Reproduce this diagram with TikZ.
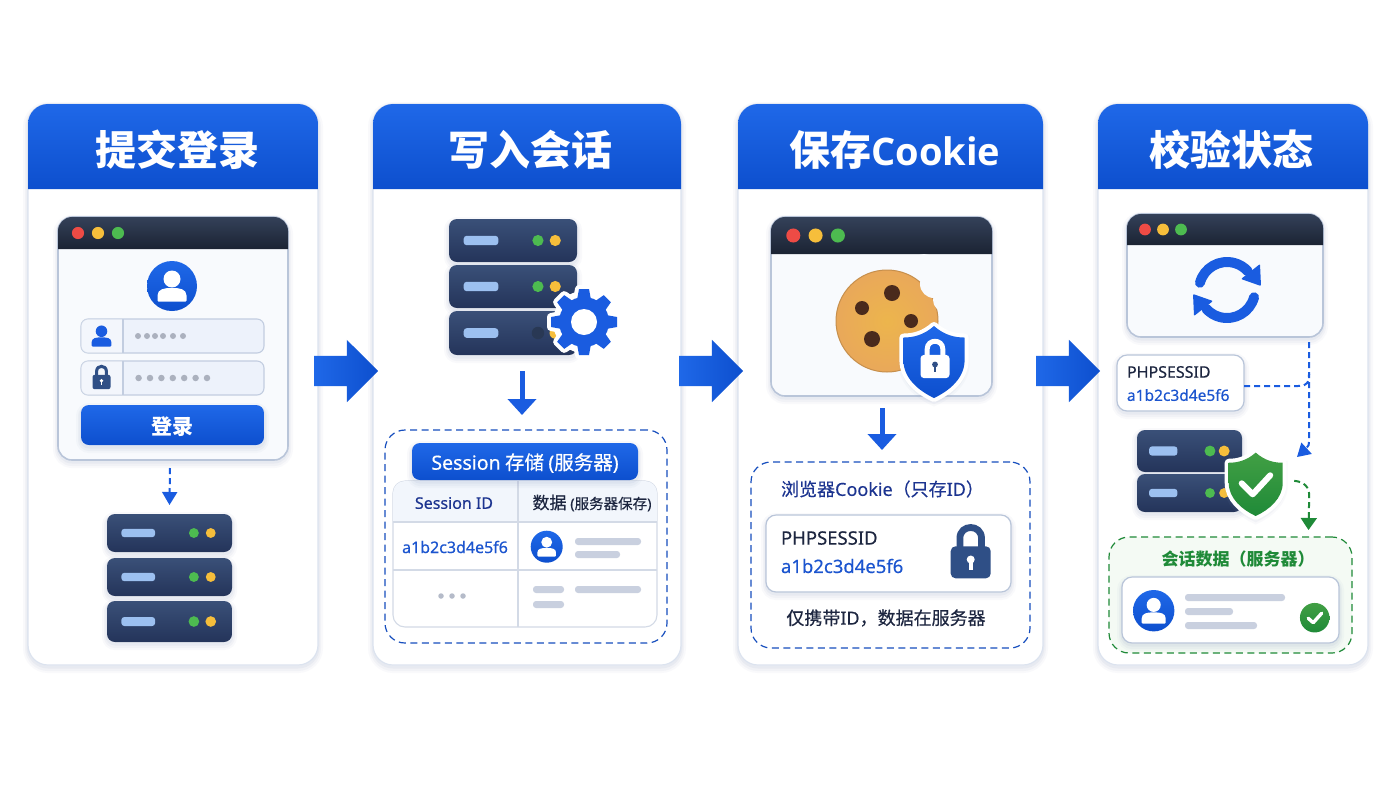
\documentclass[tikz,border=0pt]{standalone}
\usepackage{fontspec}
\setmainfont{Noto Sans CJK SC}[FakeBold=0.35,BoldFeatures={FakeBold=0}]
\newfontfamily\latfont{Noto Sans}[FakeBold=0.35]
\newfontfamily\headfont{Open Sans}
\usetikzlibrary{positioning,arrows.meta,calc,shapes.arrows}

\definecolor{mainblue}{HTML}{1A5CE0}
\definecolor{hdtop}{HTML}{1F68E8}
\definecolor{hdbot}{HTML}{0D4FCE}
\definecolor{panelline}{HTML}{DCE3EF}
\definecolor{shadowc}{HTML}{8C9CC0}
\definecolor{winfill}{HTML}{F8FAFD}
\definecolor{winline}{HTML}{B9C5D9}
\definecolor{bartop}{HTML}{344159}
\definecolor{barbot}{HTML}{1B2333}
\definecolor{srvtop}{HTML}{3A5078}
\definecolor{srvbot}{HTML}{24345A}
\definecolor{srvlight}{HTML}{9CC0F0}
\definecolor{dotred}{HTML}{EE4B45}
\definecolor{dotyel}{HTML}{F6BE3B}
\definecolor{dotgrn}{HTML}{4DBB50}
\definecolor{fieldc}{HTML}{EDF2FB}
\definecolor{fieldl}{HTML}{C2CDE0}
\definecolor{tblline}{HTML}{D3DAE6}
\definecolor{greybar}{HTML}{C9D0DF}
\definecolor{inkc}{HTML}{1D2640}
\definecolor{navyc}{HTML}{1C3490}
\definecolor{idblue}{HTML}{1C55CF}
\definecolor{greenc}{HTML}{1F8A38}
\definecolor{gfill}{HTML}{F4FAF4}
\definecolor{lockc}{HTML}{2F4F86}
\definecolor{cookiec}{HTML}{E9A85A}
\definecolor{chipc}{HTML}{4A2A1C}

\newcommand{\txtsize}[1]{\fontsize{#1}{#1}\selectfont}

\tikzset{
    softshadow/.style={
        preaction={draw=shadowc,draw opacity=.05,line width=10pt,transform canvas={yshift=-3pt}},
        preaction={draw=shadowc,draw opacity=.07,line width=6pt,transform canvas={yshift=-3pt}},
        preaction={draw=shadowc,draw opacity=.09,line width=3pt,transform canvas={yshift=-2pt}}},
    box/.style={rectangle,inner sep=0pt,outer sep=0pt},
    panel/.style={box,draw=panelline,fill=white,line width=1.2pt,rounded corners=20pt,softshadow},
    winbody/.style={box,draw=winline,fill=winfill,line width=1.6pt,rounded corners=14pt,softshadow},
    winbar/.style={top color=bartop,bottom color=barbot,draw=none},
    windot/.style={circle,inner sep=0pt,outer sep=0pt},
    srvunit/.style={box,top color=srvtop,bottom color=srvbot,rounded corners=8pt,softshadow},
    srvbar/.style={box,fill=srvlight,rounded corners=3pt},
    srvled/.style={circle,inner sep=0pt,outer sep=0pt},
    field/.style={box,draw=fieldl,fill=fieldc,line width=1.1pt,rounded corners=7pt,minimum width=183pt,minimum height=34pt},
    bluebtn/.style={box,top color=hdtop,bottom color=hdbot,rounded corners=8pt,softshadow},
    avatarc/.style={circle,inner sep=0pt,outer sep=0pt,top color=hdtop,bottom color=hdbot},
    dashbox/.style={box,draw=mainblue!85!black,line width=1.2pt,dash pattern=on 7pt off 4.5pt,fill=white,rounded corners=20pt},
    card/.style={box,draw=winline,fill=white,line width=1.2pt,rounded corners=10pt,softshadow},
    greyline/.style={box,fill=greybar,rounded corners=3pt,minimum height=7pt},
    tinydot/.style={circle,inner sep=0pt,outer sep=0pt,fill=#1},
    bigarrow/.style={single arrow,shade,shading=axis,left color=hdtop,right color=hdbot,inner xsep=0pt,inner ysep=15pt,
        outer sep=0pt,minimum height=64pt,single arrow head extend=16pt,single arrow tip angle=90},
    solidarrow/.style={draw=mainblue,line width=5pt,-{Triangle[width=28pt,length=16pt]}},
    dasharrow/.style={draw=mainblue,line width=2pt,dash pattern=on 6pt off 4pt,-{Triangle[width=15pt,length=13pt]}},
    txt/.style={inner sep=0pt,outer sep=0pt},
}

% panel with its blue head
\newcommand{\headbar}[4]{%
    \path[top color=hdtop,bottom color=hdbot]
        ($(#1.north west)+(0,85)$) [rounded corners=20pt] -- (#1.north west) -- (#1.north east)
        [sharp corners] -- ($(#1.north east)+(0,85)$) -- cycle;
    \node[txt,text=white,font=\bfseries\txtsize{41}] (#1title) at ($(#1.north)+(#3,46)$) {#4};
}
% window: name, width, height, bar, dot step, placement
\newcommand{\winbox}[6]{%
    \node[winbody,minimum width=#2pt,minimum height=#3pt,#6] (#1) {};
    \path[winbar]
        ($(#1.north west)+(0,#4)$) [rounded corners=14pt] -- (#1.north west) -- (#1.north east)
        [sharp corners] -- ($(#1.north east)+(0,#4)$) -- cycle;
    \foreach \dotc [count=\i] in {dotred,dotyel,dotgrn}
        \node[windot,fill=\dotc,minimum size={.38*#4pt}] (#1dot\i) at ($(#1.north west)+(#5*\i,#4/2)$) {};
}
% server row: name, width, height, placement
\newcommand{\srvrow}[4]{%
    \node[srvunit,minimum width=#2pt,minimum height=#3pt,#4] (#1) {};
    \node[srvbar,minimum width={.27*#2pt},minimum height={.22*#3pt}] (#1bar) at ($(#1.west)!.25!(#1.east)$) {};
    \node[srvled,fill=dotgrn,minimum size={.26*#3pt}] (#1g) at ($(#1.west)!.695!(#1.east)$) {};
    \node[srvled,fill=dotyel,minimum size={.26*#3pt}] (#1y) at ($(#1.west)!.83!(#1.east)$) {};
}
% person shape in units of #2
\newcommand{\person}[3]{%
    \begin{scope}[shift={(#1)},x=#2pt,y=-#2pt]
        \fill[#3] (0,-.28) circle (.34);
        \fill[#3,rounded corners=1pt] (-.58,.62) -- (-.58,.42) .. controls (-.58,.12) and (-.3,.08) .. (0,.08)
            .. controls (.3,.08) and (.58,.12) .. (.58,.42) -- (.58,.62) -- cycle;
    \end{scope}
}
\newcommand{\avatar}[3]{%
    \node[avatarc,minimum size={2*#2pt}] (#1) at (#3) {};
    \person{#1.center}{#2}{white}
}
% lock: name, width, body, hole, position
\newcommand{\lockicon}[5]{%
    \coordinate (#1) at (#5);
    \begin{scope}[shift={(#1)},x=#2pt,y=-#2pt]
        \draw[#3,line width={.17*#2pt}] (-.27,-.3) -- (-.27,-.6) .. controls (-.27,-.96) and (.27,-.96) .. (.27,-.6) -- (.27,-.3);
        \fill[#3,rounded corners={.12*#2pt}] (-.5,-.4) rectangle (.5,.4);
        \fill[#4] (0,-.07) circle (.1);
        \draw[#4,line width={.09*#2pt}] (0,-.05) -- (0,.18);
    \end{scope}
}
% shield: name, x unit, y unit, top colour, bottom colour, position
\newcommand{\shield}[6]{%
    \coordinate (#1) at (#6);
    \begin{scope}[shift={(#1)},x=#2pt,y=-#3pt]
        \path[draw=white,line width=8pt,line join=round,top color=#4,bottom color=#5,softshadow]
            (0,-1) .. controls (.3,-.75) and (.6,-.68) .. (.9,-.68) -- (.9,-.05)
            .. controls (.9,.45) and (.45,.8) .. (0,1) .. controls (-.45,.8) and (-.9,.45) .. (-.9,-.05)
            -- (-.9,-.68) .. controls (-.6,-.68) and (-.3,-.75) .. (0,-1) -- cycle;
        \path[top color=#4,bottom color=#5]
            (0,-1) .. controls (.3,-.75) and (.6,-.68) .. (.9,-.68) -- (.9,-.05)
            .. controls (.9,.45) and (.45,.8) .. (0,1) .. controls (-.45,.8) and (-.9,.45) .. (-.9,-.05)
            -- (-.9,-.68) .. controls (-.6,-.68) and (-.3,-.75) .. (0,-1) -- cycle;
    \end{scope}
}

\begin{document}
\begin{tikzpicture}[x=1pt,y=-1pt]
    \useasboundingbox (0,0) rectangle (1400,788);
    \fill[white] (0,0) rectangle (1400,788);

    % panels
    \node[panel,anchor=north west,minimum width=290pt,minimum height=561pt] (panel1) at (28,104) {};
    \node[panel,right=55pt of panel1,minimum width=308pt,minimum height=561pt] (panel2) {};
    \node[panel,right=57pt of panel2,minimum width=305pt,minimum height=561pt] (panel3) {};
    \node[panel,right=55pt of panel3,minimum width=270pt,minimum height=561pt] (panel4) {};
    \headbar{panel1}{85}{4}{提交登录}
    \headbar{panel2}{85}{3}{写入会话}
    \headbar{panel3}{85}{4.5}{保存{\headfont\txtsize{38}Cookie}}
    \headbar{panel4}{85}{-2}{校验状态}

    % arrows between panels
    \node[bigarrow,right=-4pt of panel1.east,yshift=13.5pt] (next1) {};
    \node[bigarrow,right=-2pt of panel2.east,yshift=13.5pt] (next2) {};
    \node[bigarrow,right=-7pt of panel3.east,yshift=13.5pt] (next3) {};

    % login window
    \winbox{win1}{230}{243}{32}{20}{below right=113pt and 30pt of panel1.north west}
    \avatar{loginuser}{25}{$(win1.north west)+(114,69)$}
    \node[field,below right=102pt and 23pt of win1.north west] (field1) {};
    \node[field,below=8pt of field1] (field2) {};
    \foreach \f in {field1,field2} {
        \path[fill=white,fill opacity=.35]
            ($(\f.north west)+(42,0)$) [rounded corners=7pt] -- (\f.north west) -- (\f.south west)
            [sharp corners] -- ($(\f.south west)+(42,0)$) -- cycle;
        \draw[fieldl,line width=1.1pt] ($(\f.north west)+(42,0)$) -- ($(\f.south west)+(42,0)$);
    }
    \person{$(field1.west)+(20.5,0)$}{17}{mainblue}
    \lockicon{fieldlock}{18}{lockc}{white}{$(field2.west)+(20.5,4)$}
    \foreach \dx [count=\i] in {57,66,74,82,92,102}
        \node[tinydot=greybar!85!black,minimum size=6pt] (fa\i) at ($(field1.west)+(\dx,0)$) {};
    \foreach \i in {1,...,7}
        \node[tinydot=greybar!85!black,minimum size=6.5pt] (fb\i) at ($(field2.west)+(46.2+11.4*\i,0)$) {};
    \node[bluebtn,below=10pt of field2,minimum width=183pt,minimum height=40pt] (loginbtn) {};
    \node[txt,text=white,font=\bfseries\txtsize{21}] (logintxt) at ($(loginbtn)+(0,1.5)$) {登录};

    % first server
    \srvrow{srvA1}{125}{38}{below right=410pt and 79pt of panel1.north west}
    \srvrow{srvA2}{125}{38}{below=6pt of srvA1}
    \srvrow{srvA3}{125}{41}{below=5pt of srvA2}
    \draw[dasharrow] ($(win1.south)+(-3,8)$) -- ($(srvA1.north)+(0,-9)$);

    % second server, gear
    \srvrow{srvB1}{128}{43}{below right=115pt and 76pt of panel2.north west}
    \srvrow{srvB2}{128}{43}{below=3pt of srvB1}
    \srvrow{srvB3}{128}{44}{below=3pt of srvB2}
    \node[srvled,fill=srvtop!70!black,minimum size=12.5pt] (srvB3off) at (srvB3g) {};
    \coordinate (gear) at ($(srvB3.east)+(7,-11)$);
    \begin{scope}[shift={(gear)},x=1pt,y=1pt]
        \foreach \a in {0,45,...,315}
            \draw[white,fill=white,line width=8pt,line join=round,rotate=\a] (-7,22) -- (-5,33) -- (5,33) -- (7,22) -- cycle;
        \fill[white] (0,0) circle (31);
        \foreach \a in {0,45,...,315}
            \fill[mainblue,rotate=\a] (-7,22) -- (-5,33) -- (5,33) -- (7,22) -- cycle;
        \fill[mainblue] (0,0) circle (25);
        \fill[white] (0,0) circle (13);
    \end{scope}

    % session store
    \node[dashbox,below right=326pt and 12pt of panel2.north west,minimum width=282pt,minimum height=213pt] (sbox) {};
    \draw[solidarrow] ($(srvB3.south)+(9,16)$) -- ($(sbox.north)+(-4,-15)$);
    \node[box,draw=tblline,fill=white,line width=1.1pt,rounded corners=12pt,
        below right=51pt and 8pt of sbox.north west,minimum width=264pt,minimum height=146pt] (tbl) {};
    \path[fill=fieldc!70!white]
        ($(tbl.north west)+(0,41)$) [rounded corners=12pt] -- (tbl.north west) -- (tbl.north east)
        [sharp corners] -- ($(tbl.north east)+(0,41)$) -- cycle;
    \draw[tblline,line width=1.1pt] ($(tbl.north west)+(0,41)$) -- ($(tbl.north east)+(0,41)$);
    \draw[tblline,line width=1.1pt] ($(tbl.north west)+(0,89)$) -- ($(tbl.north east)+(0,89)$);
    \draw[tblline,line width=1.1pt] ($(tbl.north west)+(125,0)$) -- ($(tbl.south west)+(125,0)$);
    \node[bluebtn,below right=13pt and 27pt of sbox.north west,minimum width=226pt,minimum height=37pt] (sbadge) {};
    \node[txt,text=white,font=\txtsize{19.5}] (sbadgetxt) at ($(sbadge)+(0,1.5)$) {{\latfont Session} 存储 {\latfont(}服务器{\latfont)}};
    \node[txt,text=navyc,font=\latfont\txtsize{16}] (sidhead) at ($(tbl.north west)+(61,22)$) {Session ID};
    \node[txt,text=inkc,font=\txtsize{17}] (sdatahead) at ($(tbl.north west)+(199,22)$) {数据 {\txtsize{14.5}{\latfont(}服务器保存{\latfont)}}};
    \node[txt,text=idblue,font=\latfont\txtsize{16}] (sidval) at ($(tbl.north west)+(62,66)$) {a1b2c3d4e5f6};
    \avatar{suser}{16}{$(tbl.north west)+(153.7,65.7)$}
    \node[greyline,below right=57pt and 182pt of tbl.north west,minimum width=66pt] (sl1) {};
    \node[greyline,below right=70pt and 182pt of tbl.north west,minimum width=45pt] (sl2) {};
    \node[greyline,below right=105pt and 182pt of tbl.north west,minimum width=66pt] (sl3) {};
    \node[greyline,below right=105pt and 140pt of tbl.north west,minimum width=31pt] (sl4) {};
    \node[greyline,below right=120pt and 140pt of tbl.north west,minimum width=31pt] (sl5) {};
    \foreach \dx [count=\i] in {48,59,70}
        \node[tinydot=greybar!90!black,minimum size=5.5pt] (sd\i) at ($(tbl.north west)+(\dx,115)$) {};

    % cookie window
    \winbox{win3}{221}{179}{37}{22.3}{below right=113pt and 33pt of panel3.north west}
    \node[circle,inner sep=0pt,draw=cookiec!85!black,line width=1pt,inner color=cookiec!85!yellow,outer color=cookiec,minimum size=102pt] (cookie)
        at ($(win3.north west)+(116,104)$) {};
    \fill[winfill] ($(cookie)+(47,-37)$) circle (14);
    \fill[winfill] ($(cookie)+(37,-55)$) circle (12);
    \fill[winfill] ($(cookie)+(58,-21)$) circle (12);
    \foreach \cx/\cy/\cr [count=\i] in {5/-28/8,-25/-13/7,24/0/7,-15/18/8}
        \node[circle,inner sep=0pt,fill=chipc,minimum size={2*\cr pt}] (chip\i) at ($(cookie)+(\cx,\cy)$) {};
    \shield{cookieshield}{34}{36}{hdtop}{hdbot}{$(cookie)+(47,41)$}
    \lockicon{shieldlock}{29}{white}{lockc}{$(cookieshield)+(1,4.5)$}

    % cookie store
    \node[dashbox,below right=358pt and 13pt of panel3.north west,minimum width=279pt,minimum height=186pt] (cbox) {};
    \draw[solidarrow] ($(win3.south)+(.5,12)$) -- ($(cbox.north)+(-8.5,-12)$);
    \node[txt,text=navyc,font=\txtsize{18}] (ctitle) at ($(cbox.north)+(-8,27)$) {浏览器{\latfont Cookie}（只存{\latfont ID}）};
    \node[card,below right=53pt and 15pt of cbox.north west,minimum width=245pt,minimum height=77pt] (ccard) {};
    \node[txt,anchor=west,text=inkc,font=\latfont\txtsize{18.5}] (cname) at ($(ccard.north west)+(15,23)$) {PHPSESSID};
    \node[txt,anchor=west,text=idblue,font=\latfont\txtsize{18.5}] (cval) at ($(ccard.north west)+(15,51)$) {a1b2c3d4e5f6};
    \lockicon{cardlock}{40}{lockc}{white}{$(ccard.north west)+(204.7,47.3)$}
    \node[txt,text=inkc,font=\txtsize{18}] (cnote) at ($(cbox.north)+(-4.5,156)$) {仅携带{\latfont ID}，数据在服务器};

    % check window
    \winbox{win4}{196}{123}{31}{18}{below right=110pt and 29pt of panel4.north west}
    \coordinate (sync) at ($(win4.north west)+(100,76)$);
    \begin{scope}[shift={(sync)},x=1pt,y=1pt]
        \foreach \a in {0,180} {
            \draw[mainblue,line width=10pt,line cap=round,rotate=\a] (165:28) arc (165:42:28);
            \fill[mainblue,rotate=\a,rounded corners=1pt] (33,26) -- (34,4) -- (14,11) -- cycle;
        }
    \end{scope}

    % id card and server
    \node[card,below right=251pt and 19pt of panel4.north west,minimum width=127pt,minimum height=56pt] (pcard) {};
    \node[txt,anchor=west,text=inkc,font=\latfont\txtsize{16}] (pname) at ($(pcard.north west)+(10,17)$) {PHPSESSID};
    \node[txt,anchor=west,text=idblue,font=\latfont\txtsize{15.5}] (pval) at ($(pcard.north west)+(10,40)$) {a1b2c3d4e5f6};
    \coordinate (pjoin) at ($(win4.south east)+(-14,5)$);
    \coordinate (ptip) at ($(pjoin)+(-12,115)$);
    \draw[dasharrow] (pjoin) -- ($(pjoin)+(0,93)$) .. controls ($(pjoin)+(0,104)$) .. (ptip);
    \draw[draw=mainblue,line width=2pt,dash pattern=on 6pt off 4pt] ($(pcard.east)+(0,3)$) -- ($(pcard.east)+(54,3)$)
        .. controls ($(pcard.east)+(64,3)$) and ($(pcard.east)+(65,-1)$) .. ($(pcard.east)+(65,-9)$);

    \srvrow{srvD1}{105}{42}{below right=326pt and 39pt of panel4.north west}
    \srvrow{srvD2}{105}{38}{below=2pt of srvD1}
    \shield{okshield}{30}{31.7}{dotgrn!85!black}{greenc}{$(srvD1.south east)+(13.7,12.3)$}
    \draw[white,line width=6pt,line cap=round,line join=round] ($(okshield)+(-14,-1)$) -- ($(okshield)+(-3,10)$) -- ($(okshield)+(14.5,-9)$);

    % session data
    \node[dashbox,draw=greenc,fill=gfill,below right=433pt and 11pt of panel4.north west,minimum width=243pt,minimum height=116pt] (gbox) {};
    \coordinate (gstart) at ($(okshield)+(38.5,-3.5)$);
    \draw[dasharrow,draw=greenc,-{Triangle[width=16pt,length=12pt]}] (gstart) .. controls ($(gstart)+(10,1)$) and ($(gstart)+(15,6)$) .. ($(gstart)+(15,15)$)
        -- ($(gbox.north)+(78,-7)$);
    \node[txt,text=greenc,font=\bfseries\txtsize{17}] (gtitle) at ($(gbox.north)+(7.5,22)$) {会话数据（服务器）};
    \node[card,below right=40pt and 13pt of gbox.north west,minimum width=217pt,minimum height=66pt] (gcard) {};
    \avatar{guser}{20.7}{$(gcard.north west)+(31.7,33.7)$}
    \node[greyline,below right=17pt and 63pt of gcard.north west,minimum width=100pt] (gl1) {};
    \node[greyline,below right=31pt and 63pt of gcard.north west,minimum width=48pt] (gl2) {};
    \node[greyline,below right=45pt and 63pt of gcard.north west,minimum width=72pt] (gl3) {};
    \node[circle,inner sep=0pt,top color=dotgrn!85!black,bottom color=greenc,minimum size=29.5pt] (gok) at ($(gcard.north west)+(192.7,40.7)$) {};
    \draw[white,line width=3.4pt,line cap=round,line join=round] ($(gok)+(-6.5,.5)$) -- ($(gok)+(-1.5,5)$) -- ($(gok)+(7,-4.5)$);
\end{tikzpicture}
\end{document}
